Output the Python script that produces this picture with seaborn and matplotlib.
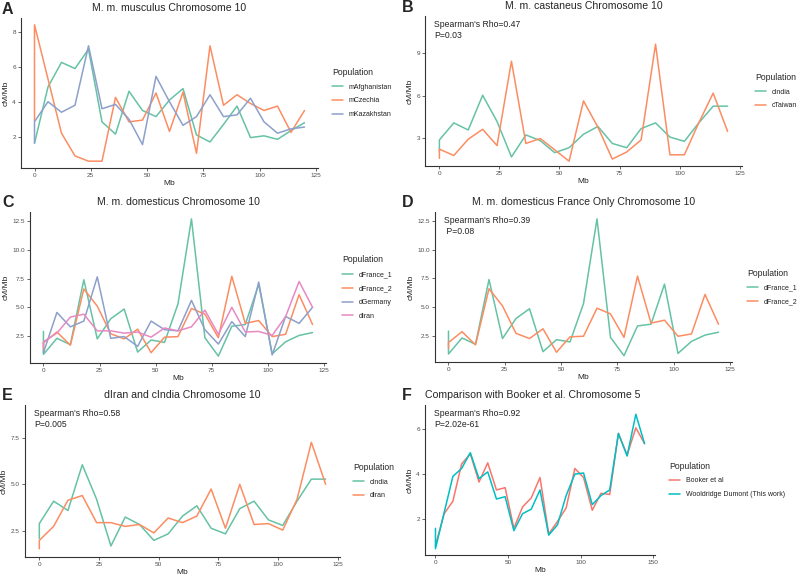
import pandas as pd
import matplotlib.pyplot as plt
import matplotlib.ticker as mtick
import seaborn as sns

# bin positions (Mb); first bin appears twice at 0
mb10 = [0, 0, 6, 12, 18, 24, 30, 36, 42, 48, 54, 60, 66, 72, 78, 84, 90, 96, 102, 108, 114, 120]
mb5 = [0, 0, 6, 12, 18, 24, 30, 36, 42, 48, 54, 60, 66, 72, 78, 84, 90, 96, 102, 108, 114, 120,
       126, 132, 138, 144]

# A - musculus
mAfghanistan = [1.62, 1.62, 4.85, 6.25, 5.9, 7.0, 2.85, 2.15, 4.6, 3.5, 3.15, 4.1, 4.75, 2.1, 1.7,
                2.7, 3.75, 1.95, 2.05, 1.85, 2.35, 2.8]
mCzechia = [2.9, 8.4, 5.3, 2.2, 0.9, 0.6, 0.6, 4.25, 2.85, 2.95, 4.5, 2.3, 4.55, 1.05, 7.2,
            3.8, 4.4, 3.9, 3.5, 3.75, 2.25, 3.5]
mKazakhstan = [1.65, 2.86, 4.0, 3.4, 3.8, 7.2, 3.6, 3.85, 3.0, 1.55, 5.45, 4.0, 2.65, 3.15, 4.4,
               3.15, 3.25, 4.2, 2.85, 2.2, 2.45, 2.55]

# B / E - castaneus
cIndia = [2.1, 2.9, 4.1, 3.6, 6.05, 4.2, 1.7, 3.25, 2.85, 2.0, 2.35, 3.3, 3.85, 2.65, 2.35,
          3.7, 4.1, 3.1, 2.8, 4.1, 5.28, 5.28]
cTaiwan = [1.6, 2.25, 1.8, 2.95, 3.65, 2.5, 8.45, 2.65, 3.0, 2.2, 1.4, 5.65, 3.8, 1.55, 2.05,
           2.9, 9.65, 1.85, 1.85, 4.1, 6.2, 3.5]

# C / D - domesticus
dFrance_1 = [2.9, 0.9, 2.3, 1.75, 7.4, 2.25, 4.0, 4.85, 1.1, 2.15, 1.95, 5.3, 12.7, 2.35, 0.75,
             3.35, 3.5, 7.0, 0.95, 2.0, 2.55, 2.8]
dFrance_2 = [1.4, 1.9, 2.85, 1.7, 6.6, 5.1, 2.7, 2.25, 3.1, 1.05, 2.4, 2.45, 4.9, 4.4, 2.35,
             7.7, 3.6, 3.85, 2.45, 2.65, 6.1, 3.5]
dGermany = [1.3, 1.05, 4.55, 3.3, 3.8, 7.65, 2.3, 2.45, 1.6, 3.8, 3.05, 2.95, 5.6, 3.05, 1.8,
            3.75, 2.45, 7.2, 0.85, 4.2, 3.6, 5.0]
dIran = [1.55, 2.0, 2.75, 4.15, 4.4, 2.95, 2.95, 2.75, 2.85, 2.4, 3.2, 2.95, 3.3, 4.75, 2.65,
         5.0, 2.85, 2.9, 2.55, 4.2, 7.25, 5.0]

# F - chromosome 5 comparison
booker = [0.85, 0.85, 2.25, 2.8, 4.45, 4.9, 3.65, 4.5, 3.3, 3.4, 1.6, 2.55, 2.95, 3.85, 1.35,
          1.9, 2.5, 4.25, 3.85, 2.4, 3.15, 3.1, 5.8, 4.85, 6.05, 5.35]
wooldridge = [1.6, 0.7, 2.3, 3.9, 4.25, 4.95, 3.8, 4.1, 2.9, 3.0, 1.5, 2.25, 2.45, 3.3, 1.3,
              1.75, 3.05, 4.0, 4.05, 2.65, 3.05, 3.3, 5.8, 4.8, 6.65, 5.35]

set2 = sns.color_palette("Set2")
gg2 = ["#F8766D", "#00BFC4"]

sns.set_style("ticks")
plt.rcParams['font.family'] = ['Liberation Sans', 'DejaVu Sans']

W, H = 800, 577
fig = plt.figure(figsize=(8, 5.77), dpi=100)


def long_df(x, series):
    frames = []
    for name, vals in series.items():
        frames.append(pd.DataFrame({"Mb": x, "cMMb": vals, "Population": name}))
    return pd.concat(frames, ignore_index=True)


def panel(box, df, colors, title, letter, ylim, ystep, xlim, xstep, gap,
          stat=None, title_left=False):
    l, r, t, b = box
    ax = fig.add_axes([l / W, 1 - b / H, (r - l) / W, (b - t) / H])
    sns.lineplot(data=df, x="Mb", y="cMMb", hue="Population", palette=colors,
                 estimator=None, sort=False, lw=1.1, ax=ax)
    ax.set_xlim(*xlim)
    ax.set_ylim(*ylim)
    ax.xaxis.set_major_locator(mtick.MultipleLocator(xstep))
    ax.yaxis.set_major_locator(mtick.MultipleLocator(ystep))
    if ystep == 2.5:
        ax.yaxis.set_major_formatter(mtick.FormatStrFormatter('%.1f'))
    ax.set_xlabel("Mb", fontsize=6, color="#222222", labelpad=1)
    ax.set_ylabel("cM/Mb", fontsize=6, color="#222222", labelpad=2)
    ax.tick_params(labelsize=4.6, length=2.2, width=0.6, colors="#4d4d4d", pad=1.5)
    for s in ["left", "bottom"]:
        ax.spines[s].set_color("#333333")
        ax.spines[s].set_linewidth(0.8)
    sns.despine(ax=ax)
    sns.move_legend(ax, "center left", bbox_to_anchor=(1 + gap / (r - l), 0.5),
                    frameon=False, fontsize=5, title_fontsize=6.2,
                    handlelength=1.6, handletextpad=0.8, labelspacing=1.0,
                    borderaxespad=0, borderpad=0)
    leg = ax.get_legend()
    leg._legend_box.align = "left"
    for ln in leg.get_lines():
        ln.set_linewidth(1.1)
    for txt in leg.get_texts():
        txt.set_color("#222222")
    if title_left:
        fig.text(l / W, 1 - (t - 10) / H, title, fontsize=7.6, ha="left", va="center")
    else:
        fig.text((l + r) / 2 / W, 1 - (t - 10) / H, title, fontsize=7.6, ha="center", va="center")
    fig.text(2 / W if l < 400 else 402 / W, 1 - (t - 9) / H, letter,
             fontsize=11.5, fontweight="bold", ha="left", va="center")
    if stat:
        fig.text((l + 9) / W, 1 - (t + 4) / H, stat, fontsize=6.2, ha="left", va="top",
                 linespacing=1.25, color="#222222")
    return ax


dfA = long_df(mb10, {"mAfghanistan": mAfghanistan, "mCzechia": mCzechia, "mKazakhstan": mKazakhstan})
panel((21, 318, 18, 168), dfA, set2[:3], "M. m. musculus Chromosome 10", "A",
      (0.21, 8.79), 2, (-6, 126), 25, 14)

dfB = long_df(mb10, {"cIndia": cIndia, "cTaiwan": cTaiwan})
panel((425, 742, 16, 166), dfB, set2[:2], "M. m. castaneus Chromosome 10", "B",
      (1.06, 11.64), 3, (-6, 126), 25, 13, stat="Spearman's Rho=0.47\nP=0.03")

dfC = long_df(mb10, {"dFrance_1": dFrance_1, "dFrance_2": dFrance_2,
                     "dGermany": dGermany, "dIran": dIran})
panel((30, 326, 212, 363), dfC, set2[:4], "M. m. domesticus Chromosome 10", "C",
      (0.15, 13.3), 2.5, (-6, 126), 25, 16)

dfD = long_df(mb10, {"dFrance_1": dFrance_1, "dFrance_2": dFrance_2})
panel((435, 732, 212, 362), dfD, set2[:2], "M. m. domesticus France Only Chromosome 10", "D",
      (0.2, 13.3), 2.5, (-6, 126), 25, 15, stat="Spearman's Rho=0.39\n P=0.08")

dfE = long_df(mb10, {"cIndia": cIndia, "dIran": dIran})
panel((25, 340, 405, 557), dfE, set2[:2], "dIran and cIndia Chromosome 10", "E",
      (1.11, 9.25), 2.5, (-6, 126), 25, 13, stat="Spearman's Rho=0.58\nP=0.005")

dfF = long_df(mb5, {"Booker et al": booker, "Wooldridge Dumont (This work)": wooldridge})
panel((425, 655, 405, 555), dfF, gg2, "Comparison with Booker et al. Chromosome 5", "F",
      (0.42, 7.06), 2, (-7.2, 151.2), 50, 14, stat="Spearman's Rho=0.92\nP=2.02e-61",
      title_left=True)

plt.savefig("out.png", dpi=100)
